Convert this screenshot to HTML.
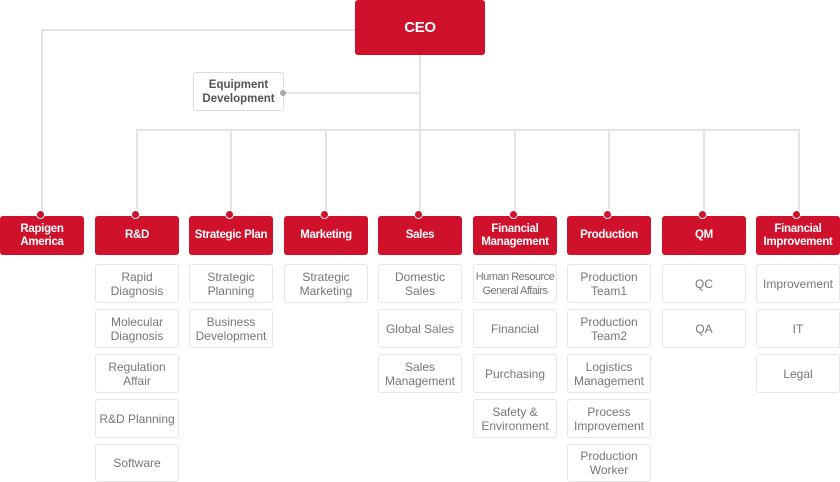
<!DOCTYPE html>
<html><head><meta charset="utf-8"><style>
body{margin:0;width:840px;height:482px;background:#fff;position:relative;overflow:hidden;font-family:"Liberation Sans",sans-serif}
.l{position:absolute;background:#e4e4e4}
.r{position:absolute;background:#cf112c;color:#fff;border-radius:3px;display:flex;align-items:center;justify-content:center;text-align:center;font-size:11.5px;font-weight:bold;line-height:13px;letter-spacing:-0.3px}
.s{position:absolute;border:1px solid #e6e6e6;border-radius:3px;box-sizing:border-box;color:#777;display:flex;align-items:center;justify-content:center;text-align:center;font-size:12px;line-height:14px;background:#fff}
.d{position:absolute;width:7px;height:7px;border-radius:50%;background:#cf112c;border:1.5px solid #fff;box-sizing:content-box}
</style></head><body>
<div class="l" style="left:41px;top:29px;width:314px;height:2px"></div>
<div class="l" style="left:41px;top:29px;width:2px;height:187px"></div>
<div class="l" style="left:419px;top:55px;width:2px;height:161px"></div>
<div class="l" style="left:283px;top:92px;width:137px;height:2px"></div>
<div class="l" style="left:136px;top:129px;width:664px;height:2px"></div>
<div class="l" style="left:136px;top:129px;width:2px;height:87px"></div>
<div class="l" style="left:230px;top:129px;width:2px;height:87px"></div>
<div class="l" style="left:325px;top:129px;width:2px;height:87px"></div>
<div class="l" style="left:514px;top:129px;width:2px;height:87px"></div>
<div class="l" style="left:608px;top:129px;width:2px;height:87px"></div>
<div class="l" style="left:703px;top:129px;width:2px;height:87px"></div>
<div class="l" style="left:798px;top:129px;width:2px;height:87px"></div>
<div class="r" style="left:355px;top:0;width:130px;height:55px;font-size:15px">CEO</div>
<div class="s" style="left:193px;top:72px;width:91px;height:39px;color:#555;font-weight:bold;font-size:11.5px;border-color:#ddd">Equipment<br>Development</div>
<div style="position:absolute;left:280px;top:90px;width:6px;height:6px;border-radius:50%;background:#aaa"></div>

<div class="r" style="left:0;top:216px;width:84px;height:39px">Rapigen<br>America</div>
<div class="r" style="left:95px;top:216px;width:84px;height:39px">R&amp;D</div>
<div class="r" style="left:189px;top:216px;width:84px;height:39px">Strategic Plan</div>
<div class="r" style="left:284px;top:216px;width:84px;height:39px">Marketing</div>
<div class="r" style="left:378px;top:216px;width:84px;height:39px">Sales</div>
<div class="r" style="left:473px;top:216px;width:84px;height:39px">Financial<br>Management</div>
<div class="r" style="left:567px;top:216px;width:84px;height:39px">Production</div>
<div class="r" style="left:662px;top:216px;width:84px;height:39px">QM</div>
<div class="r" style="left:756px;top:216px;width:84px;height:39px">Financial<br>Improvement</div>

<div class="d" style="left:36px;top:210px"></div>
<div class="d" style="left:131px;top:210px"></div>
<div class="d" style="left:225px;top:210px"></div>
<div class="d" style="left:320px;top:210px"></div>
<div class="d" style="left:414px;top:210px"></div>
<div class="d" style="left:509px;top:210px"></div>
<div class="d" style="left:603px;top:210px"></div>
<div class="d" style="left:698px;top:210px"></div>
<div class="d" style="left:792px;top:210px"></div>

<div class="s" style="left:95px;top:264px;width:84px;height:39px">Rapid<br>Diagnosis</div>
<div class="s" style="left:95px;top:309px;width:84px;height:39px">Molecular<br>Diagnosis</div>
<div class="s" style="left:95px;top:354px;width:84px;height:39px">Regulation<br>Affair</div>
<div class="s" style="left:95px;top:399px;width:84px;height:39px">R&amp;D Planning</div>
<div class="s" style="left:95px;top:444px;width:84px;height:38px">Software</div>

<div class="s" style="left:189px;top:264px;width:84px;height:39px">Strategic<br>Planning</div>
<div class="s" style="left:189px;top:309px;width:84px;height:39px">Business<br>Development</div>

<div class="s" style="left:284px;top:264px;width:84px;height:39px">Strategic<br>Marketing</div>

<div class="s" style="left:378px;top:264px;width:84px;height:39px">Domestic<br>Sales</div>
<div class="s" style="left:378px;top:309px;width:84px;height:39px">Global Sales</div>
<div class="s" style="left:378px;top:354px;width:84px;height:39px">Sales<br>Management</div>

<div class="s" style="left:473px;top:264px;width:84px;height:39px;letter-spacing:-0.5px;font-size:11px">Human Resource<br>General Affairs</div>
<div class="s" style="left:473px;top:309px;width:84px;height:39px">Financial</div>
<div class="s" style="left:473px;top:354px;width:84px;height:39px">Purchasing</div>
<div class="s" style="left:473px;top:399px;width:84px;height:39px">Safety &amp;<br>Environment</div>

<div class="s" style="left:567px;top:264px;width:84px;height:39px">Production<br>Team1</div>
<div class="s" style="left:567px;top:309px;width:84px;height:39px">Production<br>Team2</div>
<div class="s" style="left:567px;top:354px;width:84px;height:39px">Logistics<br>Management</div>
<div class="s" style="left:567px;top:399px;width:84px;height:39px">Process<br>Improvement</div>
<div class="s" style="left:567px;top:444px;width:84px;height:38px">Production<br>Worker</div>

<div class="s" style="left:662px;top:264px;width:84px;height:39px">QC</div>
<div class="s" style="left:662px;top:309px;width:84px;height:39px">QA</div>

<div class="s" style="left:756px;top:264px;width:84px;height:39px">Improvement</div>
<div class="s" style="left:756px;top:309px;width:84px;height:39px">IT</div>
<div class="s" style="left:756px;top:354px;width:84px;height:39px">Legal</div>
</body></html>
